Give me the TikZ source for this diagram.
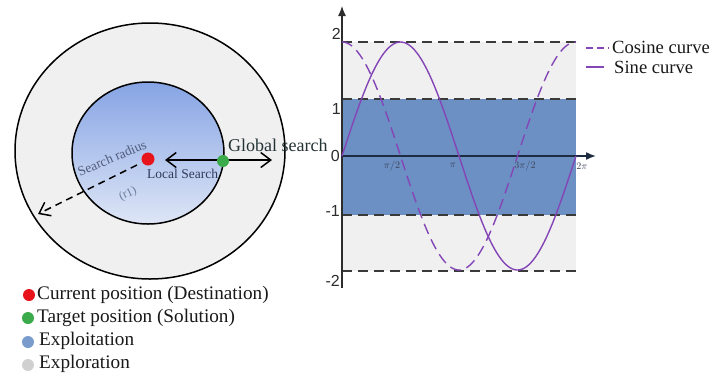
\documentclass[tikz,border=0pt]{standalone}
\usepackage{fontspec}
\setmainfont{Liberation Serif}
\newfontfamily\axisfont{Liberation Sans}
\usetikzlibrary{arrows.meta}
\definecolor{outergray}{RGB}{240,240,240}
\definecolor{innertop}{RGB}{134,164,228}
\definecolor{innerbot}{RGB}{222,230,246}
\definecolor{bandblue}{RGB}{108,144,196}
\definecolor{bandgray}{RGB}{240,240,240}
\definecolor{curvepurple}{RGB}{132,70,182}
\definecolor{dashgray}{RGB}{58,58,58}
\definecolor{globaltxt}{RGB}{36,50,52}
\definecolor{localtxt}{RGB}{50,58,90}
\definecolor{radiustxt}{RGB}{80,92,124}
\definecolor{rtxt}{RGB}{108,122,156}
\definecolor{dotred}{RGB}{232,20,28}
\definecolor{dotgreen}{RGB}{58,170,74}
\definecolor{dotblue}{RGB}{122,156,204}
\definecolor{dotgray}{RGB}{208,208,208}
\definecolor{axiscol}{RGB}{45,45,45}
\definecolor{xaxiscol}{RGB}{30,44,66}
\definecolor{ticktxt}{RGB}{60,66,90}
\tikzset{
  dotmark/.style={circle, inner sep=0pt, minimum size=13pt},
  legtext/.style={anchor=west, inner sep=0pt, font=\fontsize{19.2}{20}\selectfont, text=black!90},
  ringline/.style={line width=1.5pt, draw=black},
  bandline/.style={draw=dashgray, line width=1.4pt, dash pattern=on 10pt off 6pt},
  ylab/.style={anchor=east, inner sep=0pt, font=\axisfont\fontsize{16}{16}\selectfont, text=axiscol},
  xlab/.style={inner sep=0pt, font=\fontsize{10}{10}\selectfont, text=ticktxt},
  barb/.tip={Straight Barb[length=10pt,width=15pt,line width=1.5pt]}
}
\begin{document}
\begin{tikzpicture}[x=1pt,y=-1pt]
\useasboundingbox (0,0) rectangle (713,376);
\fill[white] (0,0) rectangle (713,376);

% ---------- left: search circles ----------
\draw[ringline, fill=outergray] (150,151) ellipse [x radius=135pt, y radius=128pt];
\shade[top color=innertop, bottom color=innerbot] (148,153) ellipse [x radius=76pt, y radius=71pt];
\draw[ringline] (148,153) ellipse [x radius=76pt, y radius=71pt];

\coordinate (radEnd) at (38,214);
\coordinate (radStart) at (137,165);
\coordinate (lsTip) at (165,160);
\coordinate (gsTip) at (272,160);

\draw[line width=1.5pt, dash pattern=on 7pt off 5pt, -{barb}] (radStart) -- (radEnd);
\draw[line width=1.5pt, {barb}-{barb}] (lsTip) -- (gsTip);

\node[dotmark, fill=dotred] (cur) at (148,159) {};
\node[dotmark, fill=dotgreen, minimum size=12pt] (tgt) at (223,161) {};

\node[anchor=west, inner sep=0pt, font=\fontsize{18}{18}\selectfont, text=globaltxt] (gs) at (228,145) {Global search};
\node[anchor=west, inner sep=0pt, font=\fontsize{13.5}{13.5}\selectfont, text=localtxt] (ls) at (147,174) {Local Search};
\node[inner sep=0pt, rotate=23, font=\fontsize{13.5}{13.5}\selectfont, text=radiustxt] (sr) at (112,158) {Search radius};
\node[inner sep=0pt, rotate=25, font=\fontsize{12}{12}\selectfont, text=rtxt] (r1) at (128,194) {(r1)};

% ---------- left legend ----------
\node[dotmark, fill=dotred, minimum size=12pt] (lgA) at (29,295) {};
\node[legtext] (lgAt) at (37,295) {Current position (Destination)};
\node[dotmark, fill=dotgreen, minimum size=12pt] (lgB) at (28,318) {};
\node[legtext] (lgBt) at (37,318) {Target position (Solution)};
\node[dotmark, fill=dotblue, minimum size=12pt] (lgC) at (28,342) {};
\node[legtext] (lgCt) at (39,341) {Exploitation};
\node[dotmark, fill=dotgray, minimum size=12pt] (lgD) at (28,365) {};
\node[legtext] (lgDt) at (39,364) {Exploration};

% ---------- right: chart ----------
\fill[bandgray] (342,42) rectangle (576,271);
\fill[bandblue] (342,99) rectangle (576,215);
\draw[bandline] (342,42) -- (576,42);
\draw[bandline] (342,99) -- (576,99);
\draw[bandline] (342,215) -- (576,215);
\draw[bandline] (342,271) -- (576,271);

\coordinate (yBot) at (342,288);
\coordinate (yTop) at (342,6);
\coordinate (xOrg) at (342,156);
\coordinate (xEnd) at (596,156);
\draw[axiscol, line width=1.2pt, -{Latex[length=10pt,width=8pt]}] (yBot) -- (yTop);
\draw[xaxiscol, line width=1.6pt, -{Latex[length=10pt,width=8pt]}] (xOrg) -- (xEnd);

\draw[curvepurple, line width=1.4pt, dash pattern=on 11pt off 6pt, domain=0:360, samples=120, smooth]
  plot ({342+\x*0.65}, {156-114*cos(\x)});
\draw[curvepurple, line width=1.4pt, domain=0:360, samples=120, smooth]
  plot ({342+\x*0.65}, {156-114*sin(\x)});

\node[ylab] (y2) at (341,34) {2};
\node[ylab] (y1) at (341,109) {1};
\node[ylab] (y0) at (340,156) {0};
\node[ylab] (ym1) at (340,211) {-1};
\node[ylab] (ym2) at (340,281) {-2};

\node[xlab] (xa) at (392,166) {$\pi/2$};
\node[xlab] (xb) at (453,165) {$\pi$};
\node[xlab] (xc) at (525,166) {$3\pi/2$};
\node[xlab] (xd) at (582,166) {$2\pi$};

% ---------- right legend ----------
\coordinate (cosA) at (586,48);
\coordinate (cosB) at (609,48);
\coordinate (sinA) at (586,67);
\coordinate (sinB) at (604,67);
\draw[curvepurple, line width=1.4pt, dash pattern=on 7pt off 4pt] (cosA) -- (cosB);
\draw[curvepurple, line width=1.4pt] (sinA) -- (sinB);
\node[anchor=west, inner sep=0pt, font=\fontsize{18.6}{18.6}\selectfont, text=black!90] (cosT) at (612,47) {Cosine curve};
\node[anchor=west, inner sep=0pt, font=\fontsize{18.6}{18.6}\selectfont, text=black!90] (sinT) at (614,67) {Sine curve};
\end{tikzpicture}
\end{document}
